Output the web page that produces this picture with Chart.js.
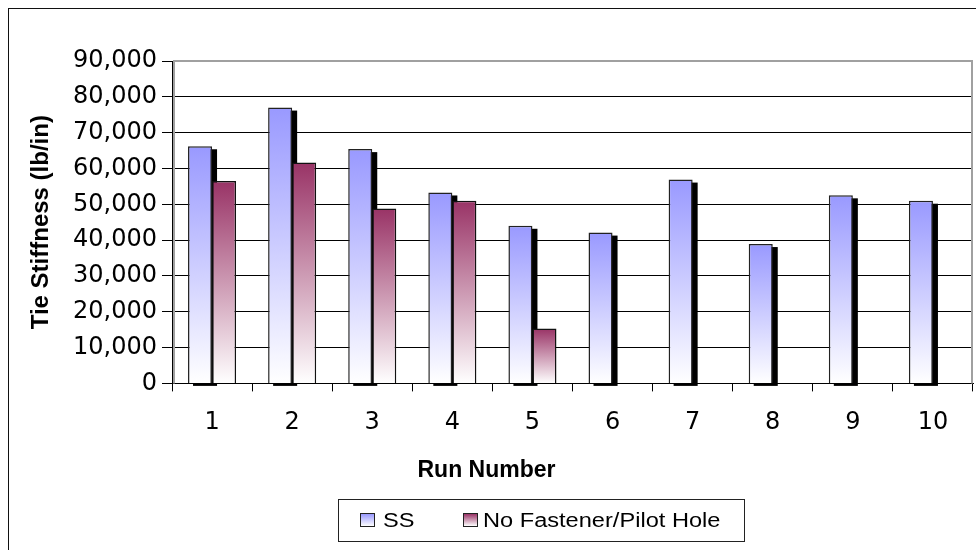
<!DOCTYPE html>
<html>
<head>
<meta charset="utf-8">
<title>Tie Stiffness by Run</title>
<script src="https://cdn.jsdelivr.net/npm/chart.js@4.4.1/dist/chart.umd.min.js"></script>
<style>
  html, body { margin: 0; padding: 0; background: #fff; }
  #wrap { position: relative; width: 976px; height: 550px; overflow: hidden; }
  #frame { position: absolute; left: 8px; top: 8px; width: 1000px; height: 600px;
           border-left: 1px solid #111; border-top: 1px solid #111; }
  #stiffChart { position: absolute; left: 0; top: 0; }
  #legendBox { position: absolute; left: 338px; top: 499px; width: 405px; height: 41px; border: 1px solid #222; }
  .swatch { position: absolute; top: 513px; width: 15px; height: 14px; box-sizing: border-box; border: 1px solid #222; }
  .legendText { position: absolute; top: 510px; font: 20px "Liberation Sans", Arial, sans-serif; line-height: 20px;
                color: #000; white-space: nowrap; transform: scaleX(1.18); transform-origin: 0 0; }
</style>
</head>
<body>
<div id="wrap">
  <div id="frame"></div>
  <canvas id="stiffChart" width="976" height="550"></canvas>
  <div id="legendBox"></div>
  <div class="swatch" style="left:360px; background: linear-gradient(#9999ff, #ffffff);"></div>
  <span class="legendText" id="legendSS" style="left:383px;"></span>
  <div class="swatch" style="left:463px; background: linear-gradient(#993366, #ffffff);"></div>
  <span class="legendText" id="legendPilot" style="left:483px;"></span>
</div>
<script>
// values (lb/in)
const runLabels = ['1', '2', '3', '4', '5', '6', '7', '8', '9', '10'];
const ssStiffness = [66200, 77000, 65400, 53300, 44000, 42100, 56900, 38900, 52500, 51000];
const pilotHoleStiffness = [56500, 61700, 48800, 51000, 15300, null, null, null, null, null];
const seriesNames = ['SS', 'No Fastener/Pilot Hole'];
const yMax = 90000;
const yStep = 10000;

document.getElementById('legendSS').textContent = seriesNames[0];
document.getElementById('legendPilot').textContent = seriesNames[1];

// vertical fade from the bar top down to the zero line, like the Excel fill
function barGradient(topColor, bottomColor) {
    return (context) => {
        const chart = context.chart;
        const y = chart.scales.y;
        if (!y || context.raw == null) return topColor;
        const y0 = y.getPixelForValue(context.raw);
        const y1 = y.getPixelForValue(0);
        if (!isFinite(y0) || !isFinite(y1) || y0 === y1) return topColor;
        const g = chart.ctx.createLinearGradient(0, y0, 0, y1);
        g.addColorStop(0, topColor);
        g.addColorStop(1, bottomColor);
        return g;
    };
}

const plotDecor = {
    id: 'plotDecor',
    beforeDatasetsDraw(chart) {
        const { ctx, chartArea: a } = chart;
        ctx.save();
        // grey plot-area frame (left, top, right)
        ctx.strokeStyle = '#a0a0a0';
        ctx.lineWidth = 2;
        ctx.beginPath();
        ctx.moveTo(a.left + 2, a.bottom);
        ctx.lineTo(a.left + 2, a.top);
        ctx.lineTo(a.right - 1, a.top);
        ctx.lineTo(a.right - 1, a.bottom);
        ctx.stroke();
        // black drop shadow behind the SS bars
        ctx.fillStyle = '#000';
        chart.getDatasetMeta(0).data.forEach(bar => {
            const p = bar.getProps(['x', 'y', 'width', 'base'], true);
            ctx.fillRect(p.x - p.width / 2 + 5, p.y + 3, p.width, p.base - p.y);
        });
        ctx.restore();
    }
};

new Chart(document.getElementById('stiffChart'), {
    type: 'bar',
    data: {
        labels: runLabels,
        datasets: [
            {
                label: seriesNames[0],
                data: ssStiffness,
                backgroundColor: barGradient('#9999ff', '#ffffff'),
                borderColor: '#222',
                borderWidth: 1.5,
                categoryPercentage: 0.6,
                barPercentage: 1
            },
            {
                label: seriesNames[1],
                data: pilotHoleStiffness,
                backgroundColor: barGradient('#993366', '#ffffff'),
                borderColor: '#111',
                borderWidth: 1.5,
                categoryPercentage: 0.6,
                barPercentage: 1
            }
        ]
    },
    options: {
        responsive: false,
        animation: false,
        events: [],
        layout: { padding: { left: 0, top: 61, right: 3, bottom: 56 } },
        plugins: {
            legend: { display: false },
            tooltip: { enabled: false },
            title: {
                display: true,
                position: 'bottom',
                text: 'Run Number',
                color: '#000',
                font: { family: 'Liberation Sans', size: 23, weight: 'bold' },
                padding: { top: 13, bottom: 10 }
            }
        },
        scales: {
            x: {
                offset: true,
                ticks: { padding: 17, color: '#000', maxRotation: 0, autoSkip: false,
                         font: { family: 'DejaVu Sans', size: 24 } },
                grid: { offset: true, drawOnChartArea: false, color: '#000', tickLength: 8 },
                border: { color: '#000', width: 1 },
                afterFit: s => { s.height = 60; }
            },
            y: {
                min: 0,
                max: yMax,
                ticks: { stepSize: yStep, padding: 5, color: '#000',
                         font: { family: 'DejaVu Sans', size: 24 } },
                grid: { color: '#000', lineWidth: 1, tickLength: 10 },
                border: { color: '#000', width: 1 },
                title: {
                    display: true,
                    text: 'Tie Stiffness (lb/in)',
                    color: '#000',
                    font: { family: 'Liberation Sans', size: 24, weight: 'bold' },
                    padding: { top: 27, bottom: 0 }
                },
                afterFit: s => { s.width = 172; }
            }
        }
    },
    plugins: [plotDecor]
});
</script>
</body>
</html>
